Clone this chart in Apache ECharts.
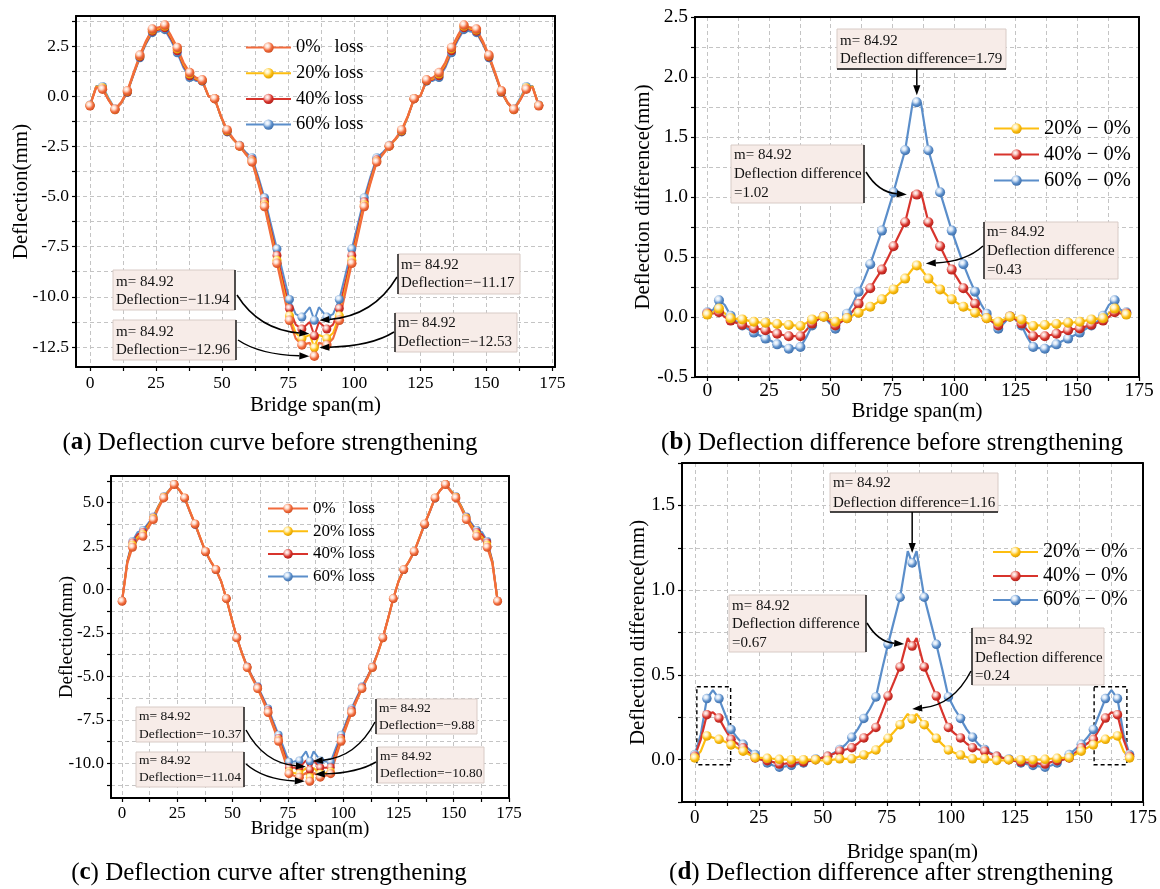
<!DOCTYPE html>
<html>
<head>
<meta charset="utf-8">
<script src="https://cdn.jsdelivr.net/npm/echarts@6/dist/echarts.min.js"></script>
<style>
  html, body { margin: 0; padding: 0; background: #fff; }
  #chart { width: 1160px; height: 889px; }
</style>
</head>
<body>
<div id="chart"></div>
<script>
// Measuring stations along the bridge (m); every second station carries a marker.
const spanStations = [0, 2.36, 4.72, 7.08, 9.44, 11.8, 14.15, 16.51, 18.87, 21.23, 23.59, 25.95, 28.31, 30.67, 33.02, 35.38, 37.74, 40.1, 42.46, 44.82, 47.18, 49.54, 51.9, 54.26, 56.61, 58.97, 61.33, 63.69, 66.05, 68.41, 70.77, 73.13, 75.49, 77.85, 80.2, 83.2, 84.92, 86.64, 89.64, 92.0, 94.36, 96.72, 99.08, 101.44, 103.8, 106.16, 108.52, 110.88, 113.24, 115.59, 117.95, 120.31, 122.67, 125.03, 127.39, 129.75, 132.11, 134.47, 136.83, 139.18, 141.54, 143.9, 146.26, 148.62, 150.98, 153.34, 155.7, 158.06, 160.42, 162.77, 165.13, 167.49, 169.85];

// (a) deflection before strengthening (mm)
const defBefore0 = [-0.48, 0.45, 0.35, -0.2, -0.65, -0.3, 0.27, 1.18, 2.05, 2.77, 3.35, 3.43, 3.55, 3.02, 2.43, 1.68, 1.18, 0.93, 0.82, 0.02, -0.12, -0.98, -1.68, -2.12, -2.48, -2.9, -3.28, -4.33, -5.5, -6.92, -8.33, -9.75, -11.17, -12.08, -12.4, -12.3, -12.96,
  -12.3, -12.4, -12.08, -11.17, -9.75, -8.33, -6.92, -5.5, -4.33, -3.28, -2.9, -2.48, -2.12, -1.68, -0.98, -0.12, 0.02, 0.82, 0.93, 1.18, 1.68, 2.43, 3.02, 3.55, 3.43, 3.35, 2.77, 2.05, 1.18, 0.27, -0.3, -0.65, -0.2, 0.35, 0.45, -0.48];
const defBefore20 = [-0.46, 0.49, 0.42, -0.17, -0.66, -0.32, 0.25, 1.15, 2.01, 2.73, 3.30, 3.38, 3.49, 2.96, 2.36, 1.61, 1.11, 0.88, 0.80, 0.02, -0.12, -1.00, -1.72, -2.15, -2.49, -2.89, -3.24, -4.27, -5.41, -6.81, -8.18, -9.56, -10.94, -11.81, -12.08, -11.90, -12.53,
  -11.90, -12.08, -11.81, -10.94, -9.56, -8.18, -6.81, -5.41, -4.27, -3.24, -2.89, -2.49, -2.15, -1.72, -1.00, -0.12, 0.02, 0.80, 0.88, 1.11, 1.61, 2.36, 2.96, 3.49, 3.38, 3.30, 2.73, 2.01, 1.15, 0.25, -0.32, -0.66, -0.17, 0.42, 0.49, -0.46];
const defBefore40 = [-0.45, 0.48, 0.39, -0.20, -0.68, -0.35, 0.21, 1.10, 1.96, 2.67, 3.24, 3.31, 3.41, 2.87, 2.27, 1.52, 1.02, 0.82, 0.77, 0.00, -0.12, -1.02, -1.75, -2.16, -2.49, -2.85, -3.17, -4.15, -5.26, -6.60, -7.94, -9.26, -10.58, -11.39, -11.61, -11.26, -11.94,
  -11.26, -11.61, -11.39, -10.58, -9.26, -7.94, -6.60, -5.26, -4.15, -3.17, -2.85, -2.49, -2.16, -1.75, -1.02, -0.12, 0.00, 0.77, 0.82, 1.02, 1.52, 2.27, 2.87, 3.41, 3.31, 3.24, 2.67, 1.96, 1.10, 0.21, -0.35, -0.68, -0.20, 0.39, 0.48, -0.45];
const defBefore60 = [-0.44, 0.51, 0.49, -0.10, -0.64, -0.34, 0.20, 1.08, 1.92, 2.62, 3.17, 3.23, 3.32, 2.78, 2.17, 1.42, 0.93, 0.76, 0.75, 0.00, -0.12, -1.03, -1.78, -2.16, -2.45, -2.79, -3.07, -4.01, -5.06, -6.34, -7.61, -8.87, -10.13, -10.86, -11.01, -10.52, -11.17,
  -10.52, -11.01, -10.86, -10.13, -8.87, -7.61, -6.34, -5.06, -4.01, -3.07, -2.79, -2.45, -2.16, -1.78, -1.03, -0.12, 0.00, 0.75, 0.76, 0.93, 1.42, 2.17, 2.78, 3.32, 3.23, 3.17, 2.62, 1.92, 1.08, 0.20, -0.34, -0.64, -0.10, 0.49, 0.51, -0.44];

// (b) deflection difference before strengthening (mm)
const diffBefore20 = [0.02, 0.04, 0.07, 0.03, -0.01, -0.015, -0.02, -0.03, -0.04, -0.045, -0.047, -0.053, -0.058, -0.062, -0.067, -0.07, -0.075, -0.05, -0.02, -0.005, 0.003, -0.02, -0.04, -0.025, -0.01, 0.012, 0.036, 0.06, 0.086, 0.115, 0.147, 0.19, 0.23, 0.275, 0.32, 0.40, 0.43,
  0.40, 0.32, 0.275, 0.23, 0.19, 0.147, 0.115, 0.086, 0.06, 0.036, 0.012, -0.01, -0.025, -0.04, -0.02, 0.003, -0.005, -0.02, -0.05, -0.075, -0.07, -0.067, -0.062, -0.058, -0.053, -0.047, -0.045, -0.04, -0.03, -0.02, -0.015, -0.01, 0.03, 0.07, 0.04, 0.02];
const diffBefore40 = [0.03, 0.03, 0.04, 0.00, -0.03, -0.05, -0.065, -0.08, -0.095, -0.10, -0.11, -0.125, -0.14, -0.15, -0.16, -0.16, -0.16, -0.11, -0.055, -0.02, 0.005, -0.035, -0.07, -0.04, -0.01, 0.05, 0.11, 0.18, 0.24, 0.32, 0.395, 0.49, 0.59, 0.69, 0.79, 1.04, 1.02,
  1.04, 0.79, 0.69, 0.59, 0.49, 0.395, 0.32, 0.24, 0.18, 0.11, 0.05, -0.01, -0.04, -0.07, -0.035, 0.005, -0.02, -0.055, -0.11, -0.16, -0.16, -0.16, -0.15, -0.14, -0.125, -0.11, -0.10, -0.095, -0.08, -0.065, -0.05, -0.03, 0.00, 0.04, 0.03, 0.03];
const diffBefore60 = [0.04, 0.06, 0.14, 0.10, 0.01, -0.04, -0.07, -0.10, -0.13, -0.155, -0.18, -0.20, -0.228, -0.245, -0.264, -0.26, -0.25, -0.17, -0.07, -0.02, 0.005, -0.05, -0.097, -0.04, 0.028, 0.11, 0.21, 0.32, 0.44, 0.58, 0.72, 0.88, 1.04, 1.22, 1.39, 1.78, 1.79,
  1.78, 1.39, 1.22, 1.04, 0.88, 0.72, 0.58, 0.44, 0.32, 0.21, 0.11, 0.028, -0.04, -0.097, -0.05, 0.005, -0.02, -0.07, -0.17, -0.25, -0.26, -0.264, -0.245, -0.228, -0.20, -0.18, -0.155, -0.13, -0.10, -0.07, -0.04, 0.01, 0.10, 0.14, 0.06, 0.04];

// (c) deflection after strengthening (mm)
const defAfter0 = [-0.67, 1.5, 2.44, 2.9, 3.07, 3.55, 4.03, 4.7, 5.28, 5.66, 6.05, 5.72, 5.28, 4.51, 3.78, 2.98, 2.19, 1.63, 1.15, 0.48, -0.52, -1.67, -2.78, -3.69, -4.49, -5.12, -5.7, -6.37, -7.08, -7.9, -8.73, -9.64, -10.6, -10.72, -10.8, -10.55, -11.04,
  -10.55, -10.8, -10.72, -10.6, -9.64, -8.73, -7.9, -7.08, -6.37, -5.7, -5.12, -4.49, -3.69, -2.78, -1.67, -0.52, 0.48, 1.15, 1.63, 2.19, 2.98, 3.78, 4.51, 5.28, 5.72, 6.05, 5.66, 5.28, 4.7, 4.03, 3.55, 3.07, 2.9, 2.44, 1.5, -0.67];
const defAfter20 = [-0.66, 1.55, 2.58, 3.03, 3.19, 3.66, 4.12, 4.77, 5.33, 5.69, 6.06, 5.73, 5.29, 4.52, 3.78, 2.98, 2.19, 1.63, 1.15, 0.48, -0.52, -1.68, -2.79, -3.69, -4.49, -5.12, -5.70, -6.36, -7.05, -7.86, -8.67, -9.55, -10.47, -10.56, -10.59, -10.28, -10.80,
  -10.28, -10.59, -10.56, -10.47, -9.55, -8.67, -7.86, -7.05, -6.36, -5.70, -5.12, -4.49, -3.69, -2.79, -1.68, -0.52, 0.48, 1.15, 1.63, 2.19, 2.98, 3.78, 4.52, 5.29, 5.73, 6.06, 5.69, 5.33, 4.77, 4.12, 3.66, 3.19, 3.03, 2.58, 1.55, -0.66];
const defAfter40 = [-0.65, 1.62, 2.71, 3.18, 3.32, 3.73, 4.15, 4.80, 5.35, 5.70, 6.06, 5.72, 5.27, 4.50, 3.75, 2.96, 2.17, 1.61, 1.14, 0.47, -0.52, -1.66, -2.76, -3.66, -4.44, -5.06, -5.63, -6.28, -6.95, -7.75, -8.54, -9.36, -10.23, -10.26, -10.25, -9.83, -10.37,
  -9.83, -10.25, -10.26, -10.23, -9.36, -8.54, -7.75, -6.95, -6.28, -5.63, -5.06, -4.44, -3.66, -2.76, -1.66, -0.52, 0.47, 1.14, 1.61, 2.17, 2.96, 3.75, 4.50, 5.27, 5.72, 6.06, 5.70, 5.35, 4.80, 4.15, 3.73, 3.32, 3.18, 2.71, 1.62, -0.65];
const defAfter60 = [-0.64, 1.65, 2.80, 3.31, 3.43, 3.82, 4.21, 4.83, 5.37, 5.72, 6.08, 5.72, 5.26, 4.48, 3.74, 2.94, 2.16, 1.60, 1.13, 0.47, -0.52, -1.66, -2.76, -3.65, -4.43, -5.03, -5.57, -6.19, -6.84, -7.60, -8.36, -9.11, -9.92, -9.90, -9.84, -9.32, -9.88,
  -9.32, -9.84, -9.90, -9.92, -9.11, -8.36, -7.60, -6.84, -6.19, -5.57, -5.03, -4.43, -3.65, -2.76, -1.66, -0.52, 0.47, 1.13, 1.60, 2.16, 2.94, 3.74, 4.48, 5.26, 5.72, 6.08, 5.72, 5.37, 4.83, 4.21, 3.82, 3.43, 3.31, 2.80, 1.65, -0.64];

// (d) deflection difference after strengthening (mm)
const diffAfter20 = [0.01, 0.05, 0.14, 0.13, 0.12, 0.105, 0.087, 0.07, 0.05, 0.03, 0.012, 0.01, 0.008, 0.005, 0.002, 0, 0, 0, 0, 0, 0, -0.005, -0.005, 0, 0.005, 0.005, 0.005, 0.015, 0.028, 0.04, 0.057, 0.09, 0.126, 0.165, 0.206, 0.27, 0.24,
  0.27, 0.206, 0.165, 0.126, 0.09, 0.057, 0.04, 0.028, 0.015, 0.005, 0.005, 0.005, 0, -0.005, -0.005, 0, 0, 0, 0, 0, 0, 0.002, 0.005, 0.008, 0.01, 0.012, 0.03, 0.05, 0.07, 0.087, 0.105, 0.12, 0.13, 0.14, 0.05, 0.01];
const diffAfter40 = [0.02, 0.12, 0.265, 0.28, 0.245, 0.18, 0.12, 0.095, 0.07, 0.04, 0.01, 0, -0.006, -0.015, -0.026, -0.024, -0.02, -0.017, -0.014, -0.007, 0, 0.01, 0.02, 0.035, 0.05, 0.06, 0.07, 0.095, 0.128, 0.155, 0.19, 0.28, 0.375, 0.46, 0.547, 0.717, 0.67,
  0.717, 0.547, 0.46, 0.375, 0.28, 0.19, 0.155, 0.128, 0.095, 0.07, 0.06, 0.05, 0.035, 0.02, 0.01, 0, -0.007, -0.014, -0.017, -0.02, -0.024, -0.026, -0.015, -0.006, 0, 0.01, 0.04, 0.07, 0.095, 0.12, 0.18, 0.245, 0.28, 0.265, 0.12, 0.02];
const diffAfter60 = [0.03, 0.15, 0.36, 0.41, 0.36, 0.27, 0.178, 0.13, 0.09, 0.06, 0.03, 0, -0.02, -0.035, -0.045, -0.04, -0.034, -0.027, -0.02, -0.008, 0.004, 0.01, 0.02, 0.04, 0.06, 0.09, 0.132, 0.18, 0.243, 0.30, 0.37, 0.53, 0.68, 0.82, 0.958, 1.23, 1.16,
  1.23, 0.958, 0.82, 0.68, 0.53, 0.37, 0.30, 0.243, 0.18, 0.132, 0.09, 0.06, 0.04, 0.02, 0.01, 0.004, -0.008, -0.02, -0.027, -0.034, -0.04, -0.045, -0.035, -0.02, 0, 0.03, 0.06, 0.09, 0.13, 0.178, 0.27, 0.36, 0.41, 0.36, 0.15, 0.03];

// Tick labels and grid-line positions
const spanTicks = [0, 25, 50, 75, 100, 125, 150, 175];
const spanGridLines = [0, 12.5, 25, 37.5, 50, 62.5, 75, 87.5, 100, 112.5, 125, 137.5, 150, 162.5, 175];
const ticksA = [-12.5, -10, -7.5, -5, -2.5, 0, 2.5];
const gridLinesA = [-12.5, -11.25, -10, -8.75, -7.5, -6.25, -5, -3.75, -2.5, -1.25, 0, 1.25, 2.5, 3.75];
const ticksB = [-0.5, 0, 0.5, 1, 1.5, 2, 2.5];
const gridLinesB = [-0.5, -0.25, 0, 0.25, 0.5, 0.75, 1, 1.25, 1.5, 1.75, 2, 2.25, 2.5];
const ticksC = [-10, -7.5, -5, -2.5, 0, 2.5, 5];
const gridLinesC = [-11.25, -10, -8.75, -7.5, -6.25, -5, -3.75, -2.5, -1.25, 0, 1.25, 2.5, 3.75, 5, 6.25];
const ticksD = [0, 0.5, 1, 1.5];
const gridLinesD = [-0.25, 0, 0.25, 0.5, 0.75, 1, 1.25, 1.5, 1.75];

// Series names
const lossNames = ['0%   loss', '20% loss', '40% loss', '60% loss'];
const diffNames = ['20% \u2212 0%', '40% \u2212 0%', '60% \u2212 0%'];

// Centre-span readings that carry a callout
const centreStation = 84.92;
const calloutsA = [-11.94, -12.96, -11.17, -12.53];
const calloutsB = [1.79, 1.02, 0.43];
const calloutsC = [-10.37, -11.04, -9.88, -10.80];
const calloutsD = [1.16, 0.67, 0.24];

// Regions framed by dashed boxes in (d): [x0, y0, x1, y1]
const framedD = [[0.8, 0.43, 14.0, -0.03], [156.0, 0.43, 168.8, -0.03]];

const SERIF = '"Liberation Serif", "Times New Roman", Times, serif';
const COLORS = {
  orange: ['#F26B3C', '#FFD9C8', '#C94A20'],
  yellow: ['#FDBE10', '#FFF0B8', '#D69A00'],
  red:    ['#D8342C', '#F8C2BC', '#A81E18'],
  blue:   ['#5B8ECA', '#D6E5F6', '#3A6AA5']
};

function ball(c) {
  return {
    type: 'radial', x: 0.38, y: 0.34, r: 0.72,
    colorStops: [
      { offset: 0, color: '#ffffff' },
      { offset: 0.28, color: c[1] },
      { offset: 0.62, color: c[0] },
      { offset: 1, color: c[2] }
    ]
  };
}

function lineSeries(name, values, col, gi, symbolSize, lineWidth) {
  return {
    type: 'line', name: name, xAxisIndex: gi, yAxisIndex: gi,
    data: spanStations.map((x, i) => i % 2 === 0 ? [x, values[i]] : { value: [x, values[i]], symbol: 'none' }),
    symbol: 'circle', symbolSize: symbolSize, showAllSymbol: true,
    lineStyle: { color: col[0], width: lineWidth },
    itemStyle: { color: ball(col) },
    emphasis: { disabled: true },
    z: 3
  };
}

const panels = [
  { grid: { left: 76, top: 16, width: 479, height: 351 }, x: [-5.3, 176], y: [-13.5, 4.0],
    ticks: ticksA, lines: gridLinesA, lab: 17.5, name: 21, xGap: 28, yGap: 44, xMargin: 7, yName: 'Deflection(mm)' },
  { grid: { left: 695, top: 17, width: 444, height: 360 }, x: [-5, 175], y: [-0.5, 2.5],
    ticks: ticksB, lines: gridLinesB, lab: 19.5, name: 21, xGap: 24, yGap: 41, xMargin: 4, yName: 'Deflection difference(mm)' },
  { grid: { left: 111, top: 476, width: 398, height: 322 }, x: [-5, 175], y: [-12.0, 6.54],
    ticks: ticksC, lines: gridLinesC, lab: 17, name: 19, xGap: 22, yGap: 34, xMargin: 7, yName: 'Deflection(mm)' },
  { grid: { left: 682, top: 463, width: 464, height: 339 }, x: [-5, 175], y: [-0.25, 1.75],
    ticks: ticksD, lines: gridLinesD, lab: 19, name: 21, xGap: 40, yGap: 33, xMargin: 7, yName: 'Deflection difference(mm)' }
];

const gridLineStyle = { color: '#c4c4c4', width: 1, type: [4, 3] };
const frameLine = { show: true, onZero: false, lineStyle: { color: '#000', width: 2 } };

const xAxes = panels.map((p, i) => ({
  type: 'value', gridIndex: i, position: 'bottom', min: p.x[0], max: p.x[1],
  name: 'Bridge span(m)', nameLocation: 'middle', nameGap: p.xGap, nameMoveOverlap: false,
  nameTextStyle: { fontFamily: SERIF, fontSize: p.name, color: '#000' },
  axisLine: frameLine,
  axisTick: { show: true, customValues: spanGridLines, length: 4, inside: false, lineStyle: { color: '#000', width: 1.2 } },
  axisLabel: { customValues: spanTicks, fontFamily: SERIF, fontSize: p.lab, color: '#000', margin: p.xMargin, formatter: v => String(v) },
  splitLine: { show: true, lineStyle: gridLineStyle },
  minorTick: { show: false }, minorSplitLine: { show: false }
}));
const yAxes = panels.map((p, i) => ({
  type: 'value', gridIndex: i, position: 'left', min: p.y[0], max: p.y[1],
  name: p.yName, nameLocation: 'middle', nameGap: p.yGap, nameMoveOverlap: false,
  nameTextStyle: { fontFamily: SERIF, fontSize: p.name, color: '#000' },
  axisLine: frameLine,
  axisTick: { show: true, customValues: p.lines, length: 4, inside: false, lineStyle: { color: '#000', width: 1.2 } },
  axisLabel: { customValues: p.ticks, fontFamily: SERIF, fontSize: p.lab, color: '#000', margin: 7, formatter: v => v.toFixed(1) },
  splitLine: { show: true, lineStyle: gridLineStyle },
  minorTick: { show: false }, minorSplitLine: { show: false }
}));
// top and right frame edges
panels.forEach((p, i) => {
  xAxes.push({ type: 'value', gridIndex: i, position: 'top', min: p.x[0], max: p.x[1], z: 5,
    axisLine: frameLine, axisTick: { show: false }, axisLabel: { show: false }, splitLine: { show: false } });
  yAxes.push({ type: 'value', gridIndex: i, position: 'right', min: p.y[0], max: p.y[1], z: 5,
    axisLine: frameLine, axisTick: { show: false }, axisLabel: { show: false }, splitLine: { show: false } });
});

const legendBase = { orient: 'vertical', padding: 0, selectedMode: false, itemWidth: 45, itemHeight: 13 };

const option = {
  animation: false,
  backgroundColor: '#ffffff',
  grid: panels.map(p => Object.assign({ show: false }, p.grid)),
  xAxis: xAxes,
  yAxis: yAxes,
  legend: [
    Object.assign({}, legendBase, { data: lossNames, left: 245, top: 38, itemGap: 6.7,
      textStyle: { fontFamily: SERIF, fontSize: 18.5, color: '#000' } }),
    Object.assign({}, legendBase, { data: diffNames, left: 993, top: 118, itemGap: 5,
      textStyle: { fontFamily: SERIF, fontSize: 20.5, color: '#000' } }),
    Object.assign({}, legendBase, { data: lossNames, left: 267, top: 500, itemWidth: 40, itemHeight: 12, itemGap: 5.7,
      textStyle: { fontFamily: SERIF, fontSize: 17, color: '#000' } }),
    Object.assign({}, legendBase, { data: diffNames, left: 992, top: 542, itemGap: 4,
      textStyle: { fontFamily: SERIF, fontSize: 20, color: '#000' } })
  ],
  series: [
    lineSeries(lossNames[3], defBefore60, COLORS.blue, 0, 9, 2),
    lineSeries(lossNames[2], defBefore40, COLORS.red, 0, 9, 2),
    lineSeries(lossNames[1], defBefore20, COLORS.yellow, 0, 9, 2),
    lineSeries(lossNames[0], defBefore0, COLORS.orange, 0, 9.5, 2.2),

    lineSeries(diffNames[2], diffBefore60, COLORS.blue, 1, 10, 2.2),
    lineSeries(diffNames[1], diffBefore40, COLORS.red, 1, 10, 2.2),
    lineSeries(diffNames[0], diffBefore20, COLORS.yellow, 1, 10, 2.2),

    lineSeries(lossNames[3], defAfter60, COLORS.blue, 2, 8, 2),
    lineSeries(lossNames[2], defAfter40, COLORS.red, 2, 8, 2),
    lineSeries(lossNames[1], defAfter20, COLORS.yellow, 2, 8, 2),
    lineSeries(lossNames[0], defAfter0, COLORS.orange, 2, 9, 2.2),

    lineSeries(diffNames[2], diffAfter60, COLORS.blue, 3, 9.5, 2.2),
    lineSeries(diffNames[1], diffAfter40, COLORS.red, 3, 9.5, 2.2),
    Object.assign(lineSeries(diffNames[0], diffAfter20, COLORS.yellow, 3, 9.5, 2.2), {
      markArea: {
        silent: true,
        label: { show: false },
        itemStyle: { color: 'rgba(0,0,0,0)', borderColor: '#000', borderWidth: 1.4, borderType: [4, 3] },
        data: framedD.map(b => [{ coord: [b[0], b[1]] }, { coord: [b[2], b[3]] }])
      }
    })
  ]
};

const chart = echarts.init(document.getElementById('chart'), null, { renderer: 'canvas' });
chart.setOption(option);

// ---- callout boxes and arrows -------------------------------------------
function signed(v) { return (v < 0 ? '\u2212' : '') + Math.abs(v).toFixed(2); }

function calloutLines(kind, v) {
  if (kind === 'def') return ['m= ' + centreStation.toFixed(2), 'Deflection=' + signed(v)];
  if (kind === 'top') return ['m= ' + centreStation.toFixed(2), 'Deflection difference=' + v.toFixed(2)];
  return ['m= ' + centreStation.toFixed(2), 'Deflection difference', '=' + v.toFixed(2)];
}

// box: [x, y, w, h]; edge: side drawn dark; from: arrow start; tip: offset of arrow tip from the point
const callouts = [
  { g: 0, v: calloutsA[0], kind: 'def', box: [113, 270, 122, 40], edge: 'right', from: [237, 295], tip: [-5, -2], fs: 15, lh: 18.3, first: 281.7 },
  { g: 0, v: calloutsA[1], kind: 'def', box: [113, 320, 123, 40], edge: 'right', from: [238, 340], tip: [-5, 0], fs: 15, lh: 18.3, first: 331.7 },
  { g: 0, v: calloutsA[2], kind: 'def', box: [398, 254, 122, 40], edge: 'left', from: [397, 277], tip: [5, 0], fs: 15, lh: 18.3, first: 265 },
  { g: 0, v: calloutsA[3], kind: 'def', box: [395, 313, 122, 39], edge: 'left', from: [394, 332], tip: [5, 0], fs: 15, lh: 18.3, first: 323.3 },

  { g: 1, v: calloutsB[0], kind: 'top', box: [837, 29, 169, 40], edge: 'bottom', from: null, tip: [0, -7], fs: 15, lh: 18.7, first: 40.7 },
  { g: 1, v: calloutsB[1], kind: 'side', box: [731, 145, 133, 58], edge: 'right', from: [866, 172], tip: [-10, 0], fs: 15, lh: 19, first: 155 },
  { g: 1, v: calloutsB[2], kind: 'side', box: [984, 222, 134, 57], edge: 'left', from: [983, 246], tip: [9, -2], fs: 15, lh: 19, first: 231.7 },

  { g: 2, v: calloutsC[0], kind: 'def', box: [136, 707, 108, 35], edge: 'right', from: [246, 730], tip: [-4, -3], fs: 13.5, lh: 17.3, first: 716.7 },
  { g: 2, v: calloutsC[1], kind: 'def', box: [136, 752, 108, 35], edge: 'right', from: [246, 764], tip: [-5, 0], fs: 13.5, lh: 16.5, first: 760.7 },
  { g: 2, v: calloutsC[2], kind: 'def', box: [376, 699, 101, 35], edge: 'left', from: [375, 722], tip: [3, 0], fs: 13.5, lh: 17.3, first: 708.3 },
  { g: 2, v: calloutsC[3], kind: 'def', box: [377, 747, 107, 36], edge: 'left', from: [376, 762], tip: [5, -3], fs: 13.5, lh: 16.6, first: 756.7 },

  { g: 3, v: calloutsD[0], kind: 'top', box: [830, 473, 168, 39], edge: 'bottom', from: null, tip: [0, -10], fs: 15, lh: 19.3, first: 483.3 },
  { g: 3, v: calloutsD[1], kind: 'side', box: [729, 595, 137, 57], edge: 'right', from: [867, 623], tip: [-8, -2], fs: 15, lh: 18.5, first: 605.7 },
  { g: 3, v: calloutsD[2], kind: 'side', box: [972, 628, 132, 57], edge: 'left', from: [971, 671], tip: [0, -10], fs: 15, lh: 18, first: 640 }
];

function arrow(p0, p2, curved) {
  const dx = p2[0] - p0[0], dy = p2[1] - p0[1];
  const c = curved ? [p0[0] + dx * 0.3, p0[1] + dy * 0.9] : [(p0[0] + p2[0]) / 2, (p0[1] + p2[1]) / 2];
  let tx = p2[0] - c[0], ty = p2[1] - c[1];
  const len = Math.hypot(tx, ty) || 1; tx /= len; ty /= len;
  const L = 10, W = 3.6;
  const base = [p2[0] - tx * L, p2[1] - ty * L];
  const nx = -ty, ny = tx;
  return [
    { type: 'bezierCurve', z: 20, silent: true,
      shape: { x1: p0[0], y1: p0[1], x2: base[0], y2: base[1], cpx1: c[0], cpy1: c[1] },
      style: { stroke: '#000', lineWidth: 1.5, fill: null } },
    { type: 'polygon', z: 20, silent: true,
      shape: { points: [p2, [base[0] + nx * W, base[1] + ny * W], [base[0] - nx * W, base[1] - ny * W]] },
      style: { fill: '#000' } }
  ];
}

const graphics = [];
callouts.forEach(c => {
  const [bx, by, bw, bh] = c.box;
  graphics.push({ type: 'rect', z: 15, silent: true, shape: { x: bx, y: by, width: bw, height: bh },
    style: { fill: '#F7ECE8', stroke: '#D8CBC6', lineWidth: 1 } });
  let edge;
  if (c.edge === 'right') edge = [bx + bw, by, bx + bw, by + bh];
  else if (c.edge === 'left') edge = [bx, by, bx, by + bh];
  else edge = [bx, by + bh, bx + bw, by + bh];
  graphics.push({ type: 'line', z: 16, silent: true, shape: { x1: edge[0], y1: edge[1], x2: edge[2], y2: edge[3] },
    style: { stroke: '#111', lineWidth: 1.4 } });
  graphics.push({ type: 'text', z: 17, silent: true, x: bx + 3, y: c.first - c.lh / 2,
    style: { text: calloutLines(c.kind, c.v).join('\n'), fontFamily: SERIF, fontSize: c.fs, lineHeight: c.lh,
      fill: '#111', align: 'left', verticalAlign: 'top' } });
  const pt = chart.convertToPixel({ gridIndex: c.g }, [centreStation, c.v]);
  const tipPt = [pt[0] + c.tip[0], pt[1] + c.tip[1]];
  if (c.from) {
    arrow(c.from, tipPt, true).forEach(e => graphics.push(e));
  } else {
    arrow([tipPt[0], by + bh], tipPt, false).forEach(e => graphics.push(e));
  }
});

// captions under each panel
const captions = [
  { x: 270, y: 443, letter: 'a', text: ' Deflection curve before strengthening' },
  { x: 892, y: 443, letter: 'b', text: ' Deflection difference before strengthening' },
  { x: 269, y: 873, letter: 'c', text: ' Deflection curve after strengthening' },
  { x: 891, y: 873, letter: 'd', text: ' Deflection difference after strengthening' }
];
captions.forEach(c => {
  graphics.push({ type: 'text', z: 10, silent: true, x: c.x, y: c.y,
    style: { text: '({L|' + c.letter + '})' + c.text, fontFamily: SERIF, fontSize: 25, fill: '#000',
      align: 'center', verticalAlign: 'middle',
      rich: { L: { fontFamily: SERIF, fontSize: 25, fontWeight: 'bold', fill: '#000' } } } });
});

chart.setOption({ graphic: graphics });
</script>
</body>
</html>
